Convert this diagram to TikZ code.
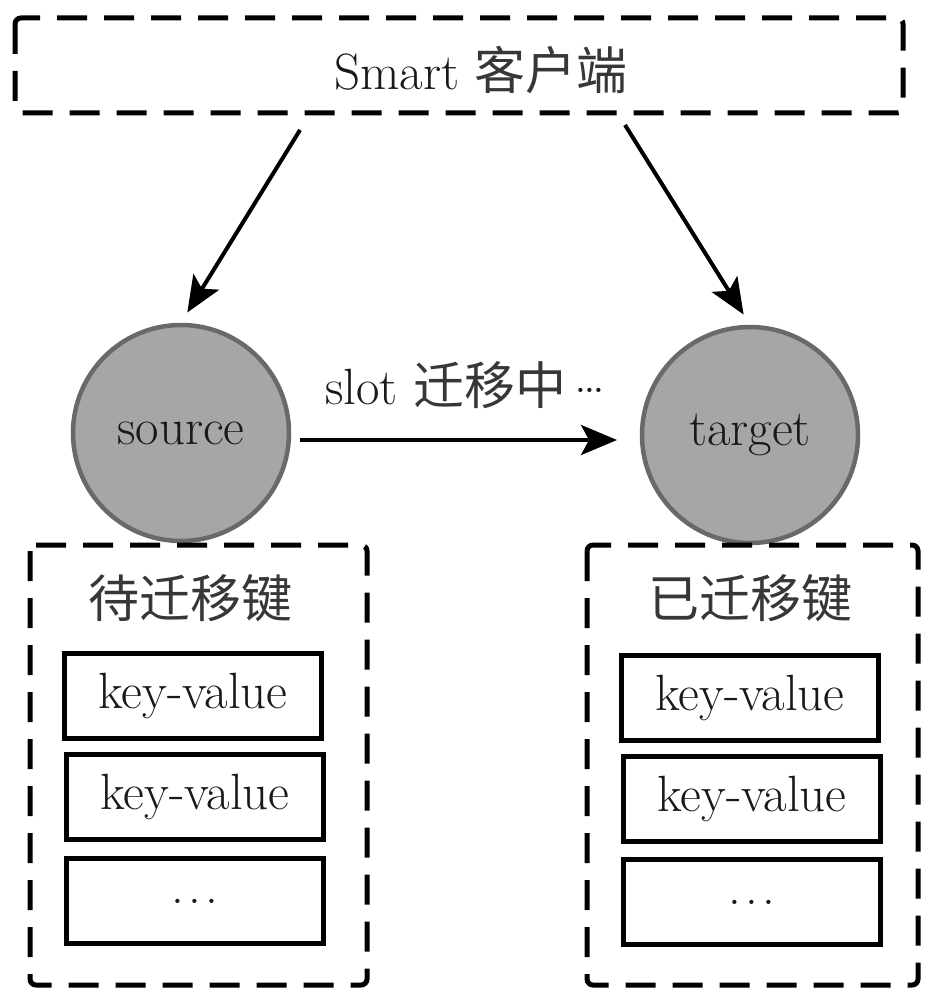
\documentclass[tikz,border=0pt]{standalone}
\usepackage{fontspec}
\newfontfamily\cjk[Scale=1.0]{Noto Sans CJK SC}
\usetikzlibrary{arrows.meta,calc}
\definecolor{nodefill}{RGB}{166,166,166}
\definecolor{nodeedge}{RGB}{105,105,105}
\definecolor{cjkgray}{RGB}{55,55,55}
\tikzset{
  txt/.style={font=\fontsize{51pt}{56pt}\selectfont, inner sep=0pt, text=black!90},
  dbox/.style={draw, line width=5pt, dash pattern=on 30pt off 17pt, rounded corners=6pt},
  kv/.style={draw, line width=4.5pt, minimum width=257pt, minimum height=85pt, txt},
  srv/.style={circle, draw=nodeedge, fill=nodefill, line width=4.5pt, minimum size=216pt, txt},
  arr/.style={line width=4pt, -{Stealth[length=36pt,width=30pt,inset=8pt]}}
}
\newcommand{\zh}[1]{{\cjk\color{cjkgray}#1}}
\newcommand{\threedots}{.\hspace{4pt}.\hspace{4pt}.}
\newcommand{\middots}{\raisebox{12pt}{.\hspace{-4pt}.\hspace{-4pt}.}}
\begin{document}
\begin{tikzpicture}[x=1pt,y=-1pt]
\useasboundingbox[fill=white] (0,0) rectangle (925,992);

% client box
\draw[dbox] (15,18) rectangle (903,113);
\node[txt] (client) at (481,70) {Smart \zh{客户端}};

% servers
\node[srv] (source) at (181,433) {source};
\node[srv] (target) at (750,435) {target};

% arrows from client
\coordinate (c1) at (300,130);
\coordinate (c2) at (625,125);
\draw[arr, shorten >=12pt] (c1) -- (source.north);
\draw[arr, shorten >=12pt] (c2) -- (target.north);

% migration arrow
\coordinate (m1) at (300,440);
\coordinate (m2) at (617,440);
\draw[arr] (m1) -- (m2);
\node[txt] (mlabel) at (465,385) {slot \zh{迁移中}\,\middots};

% left group
\draw[dbox] (30,545) rectangle (367,985);
\node[txt] (ltitle) at (190,598) {\zh{待迁移键}};
\node[kv] (l1) at (193,696) {key-value};
\node[kv] (l2) at (195,797) {key-value};
\node[kv] (l3) at (195,901) {\threedots};

% right group
\draw[dbox] (587,545) rectangle (918,985);
\node[txt] (rtitle) at (750,598) {\zh{已迁移键}};
\node[kv] (r1) at (750,698) {key-value};
\node[kv] (r2) at (752,799) {key-value};
\node[kv] (r3) at (752,902) {\threedots};
\end{tikzpicture}
\end{document}
